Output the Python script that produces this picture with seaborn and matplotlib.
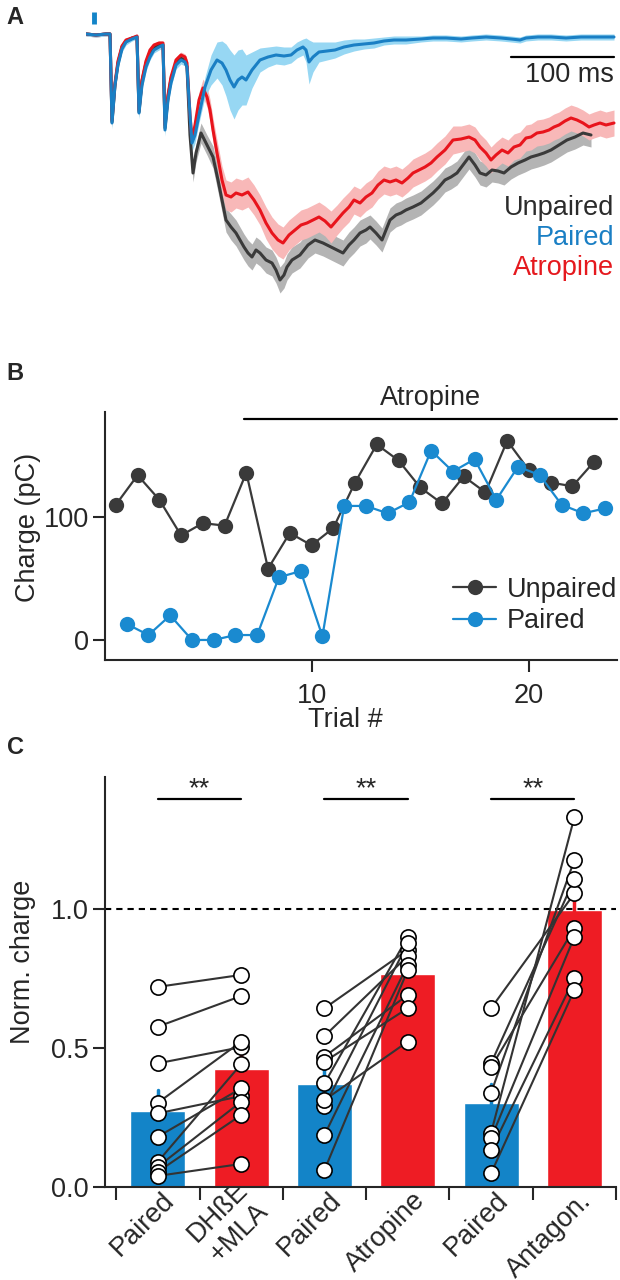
import numpy as np
import pandas as pd
import seaborn as sns
import matplotlib.pyplot as plt
import matplotlib.transforms as mtransforms

# -----------------------------
# Panel A: averaged synaptic currents (time in ms, current in a.u.)
# -----------------------------
t_paired = [0, 10, 20, 24, 26, 29, 32, 36, 40, 46, 51, 53, 56, 60, 64, 68, 73, 77, 79, 82,
            85, 90, 95, 99, 101, 104, 106, 109, 113, 119, 125, 131, 136, 140, 144, 148, 152, 156, 160, 166,
            174, 182, 190, 198, 205, 211, 217, 220, 223, 227, 233, 241, 249, 258, 268, 278, 288, 298, 308, 320,
            335, 347, 360, 375, 386, 400, 415, 425, 434, 440, 452, 465, 480, 495, 510, 528]
i_paired = [1, 0, 1, 1, -88, -50, -30, -14, -7, -4, -2, -78, -50, -32, -22, -15, -12, -10, -95, -65,
            -48, -30, -25, -27, -32, -80, -108, -100, -80, -52, -35, -25, -28, -35, -45, -52, -45, -42, -45, -35,
            -25, -22, -20, -21, -20, -15, -12, -15, -27, -22, -17, -16, -15, -12, -10, -9, -8, -6, -5, -5,
            -4, -3, -3, -4, -3, -2, -3, -4, -5, -3, -2, -2, -3, -2, -2, -2]
sem_paired = [2, 2, 2, 2, 6, 5, 4, 3, 3, 2, 2, 6, 5, 4, 3, 3, 3, 3, 6, 5,
              4, 4, 4, 4, 4, 6, 8, 8, 8, 10, 15, 18, 22, 26, 30, 32, 30, 28, 25, 18,
              12, 10, 9, 9, 8, 8, 8, 12, 22, 15, 10, 9, 8, 7, 6, 5, 5, 4, 4, 4,
              3, 3, 3, 3, 3, 3, 3, 3, 3, 3, 3, 3, 3, 3, 3, 3]

t_atropine = [0, 10, 20, 24, 26, 29, 32, 36, 40, 46, 51, 53, 56, 60, 64, 68, 73, 77, 79, 82,
              85, 90, 95, 99, 101, 104, 106, 109, 113, 117, 121, 124, 127, 131, 136, 140, 145, 150, 156, 162,
              168, 174, 180, 186, 192, 197, 203, 209, 215, 221, 227, 233, 239, 245, 251, 257, 263, 268, 274, 280,
              286, 292, 298, 304, 310, 316, 322, 327, 333, 339, 345, 351, 359, 367, 375, 383, 389, 394, 400, 405,
              410, 416, 422, 428, 434, 440, 445, 451, 457, 463, 468, 473, 479, 485, 491, 497, 503, 508, 514, 520, 528]
i_atropine = [1, 0, 1, 1, -85, -48, -26, -11, -5, -3, -1, -75, -45, -26, -15, -10, -8, -8, -90, -60,
              -42, -25, -20, -22, -28, -80, -105, -90, -65, -53, -62, -75, -95, -118, -145, -160, -162, -158, -160, -157,
              -165, -175, -188, -198, -205, -208, -200, -195, -190, -188, -185, -182, -186, -192, -185, -178, -172, -165, -168, -162,
              -158, -150, -145, -147, -145, -148, -143, -138, -135, -132, -128, -122, -115, -105, -104, -102, -105, -112, -118, -125,
              -120, -115, -118, -112, -110, -103, -102, -98, -97, -95, -92, -90, -86, -83, -85, -88, -92, -90, -88, -90, -88]
sem_atropine = [2, 2, 2, 2, 5, 4, 3, 3, 2, 2, 2, 5, 4, 3, 3, 2, 2, 2, 5, 4,
                4, 3, 3, 3, 4, 6, 8, 8, 8, 9, 10, 11, 12, 13, 14, 15, 15, 15, 15, 15,
                15, 15, 16, 16, 16, 16, 15, 15, 15, 15, 15, 15, 15, 16, 15, 15, 15, 14, 14, 14,
                14, 14, 14, 14, 14, 14, 14, 14, 14, 14, 14, 14, 14, 14, 13, 13, 13, 13, 13, 13,
                13, 13, 13, 13, 13, 13, 13, 13, 13, 13, 13, 13, 13, 13, 13, 13, 13, 13, 13, 13, 13]

t_unpaired = [0, 10, 20, 24, 26, 29, 32, 36, 40, 46, 51, 53, 56, 60, 64, 68, 73, 77, 79, 82,
              85, 90, 95, 99, 101, 104, 107, 110, 115, 121, 127, 132, 136, 140, 145, 150, 154, 158, 162, 166,
              170, 174, 180, 186, 190, 194, 198, 201, 206, 214, 222, 229, 237, 245, 251, 257, 263, 268, 274, 280,
              284, 290, 296, 300, 304, 310, 315, 320, 327, 335, 341, 347, 353, 359, 365, 371, 377, 383, 389, 394,
              400, 406, 412, 418, 425, 432, 439, 445, 452, 458, 465, 473, 481, 489, 497, 505]
i_unpaired = [1, 0, 1, 1, -87, -50, -28, -12, -6, -3, -2, -77, -46, -28, -17, -12, -10, -10, -93, -62,
              -44, -28, -23, -26, -32, -100, -138, -118, -98, -110, -122, -145, -165, -185, -192, -198, -205, -212, -218, -222,
              -215, -218, -225, -228, -235, -245, -240, -232, -225, -220, -210, -205, -208, -212, -215, -218, -210, -205, -198, -195,
              -192, -198, -205, -195, -185, -180, -178, -175, -172, -168, -163, -158, -152, -145, -142, -138, -130, -122, -130, -138,
              -140, -135, -136, -138, -132, -128, -125, -122, -120, -118, -115, -110, -105, -102, -98, -100]
sem_unpaired = [2, 2, 2, 2, 5, 4, 3, 3, 2, 2, 2, 5, 4, 3, 3, 2, 2, 2, 5, 4,
                4, 3, 3, 3, 4, 6, 9, 9, 10, 10, 11, 12, 12, 12, 13, 13, 13, 13, 13, 13,
                13, 13, 13, 13, 13, 13, 13, 13, 13, 13, 13, 13, 13, 13, 13, 13, 13, 13, 13, 13,
                12, 12, 12, 12, 12, 12, 12, 12, 12, 12, 12, 12, 12, 12, 12, 12, 12, 12, 12, 12,
                12, 12, 12, 12, 12, 12, 12, 12, 12, 12, 12, 12, 12, 12, 12, 12]

# -----------------------------
# Panel B: charge per trial
# -----------------------------
trials_unpaired = list(range(1, 24))
charge_unpaired = [110, 134, 114, 85, 95, 93, 136, 58, 87, 77, 91, 128, 159, 146, 124,
                   111, 133, 120, 162, 138, 128, 125, 145]
trials_paired = [1.5, 2.5, 3.5, 4.5, 5.5, 6.5, 7.5, 8.5, 9.5, 10.5, 11.5, 12.5, 13.5,
                 14.5, 15.5, 16.5, 17.5, 18.5, 19.5, 20.5, 21.5, 22.5, 23.5]
charge_paired = [13, 4, 20, 0, 0, 4, 4, 51, 56, 3, 109, 109, 103, 112, 154, 137, 147,
                 114, 141, 134, 110, 103, 107]
atropine_start = 6.9

# -----------------------------
# Panel C: normalized charge, paired cells
# -----------------------------
cond_keys = ["p1", "dhbe", "p2", "atro", "p3", "antag"]
cond_labels = ["Paired", "DHßE\n+MLA", "Paired", "Atropine", "Paired", "Antagon."]
dhbe_before = [0.720, 0.577, 0.445, 0.303, 0.265, 0.181, 0.091, 0.073, 0.055, 0.040]
dhbe_after = [0.763, 0.687, 0.503, 0.523, 0.327, 0.355, 0.442, 0.307, 0.259, 0.083]
atro_before = [0.643, 0.543, 0.469, 0.451, 0.373, 0.290, 0.313, 0.187, 0.061]
atro_after = [0.853, 0.831, 0.691, 0.643, 0.900, 0.877, 0.523, 0.800, 0.781]
antag_before = [0.643, 0.445, 0.431, 0.339, 0.195, 0.175, 0.133, 0.049]
antag_after = [1.056, 1.107, 0.931, 1.176, 1.330, 0.900, 0.751, 0.709]

blue = "#1384c8"
red = "#ee1c24"
dark = "#333333"

sns.set_theme(style="ticks")
plt.rcParams["font.family"] = ["Liberation Sans", "DejaVu Sans"]
plt.rcParams["axes.linewidth"] = 1.5
FS = 19.5

fig = plt.figure(figsize=(6.2, 12.8), dpi=100)
W, H = 620.0, 1280.0


def box(x0, y0, x1, y1):
    return [x0 / W, 1 - y1 / H, (x1 - x0) / W, (y1 - y0) / H]


# ---------------- Panel A ----------------
axA = fig.add_axes(box(86, 5, 616, 310))
traces = [
    (t_unpaired, i_unpaired, sem_unpaired, "#3a3a3a", "#b4b4b4"),
    (t_atropine, i_atropine, sem_atropine, "#e8141c", "#f8b8b8"),
    (t_paired, i_paired, sem_paired, "#1a7fc4", "#97d7f3"),
]
for t, v, s, lc, fc in traces:
    v = np.array(v, dtype=float)
    s = np.array(s, dtype=float)
    axA.fill_between(t, v - s, v + s, color=fc, lw=0, zorder=1)
for t, v, s, lc, fc in traces:
    sns.lineplot(x=t, y=v, color=lc, lw=2.2, ax=axA, zorder=2)
axA.set_xlim(0, 530)
axA.set_ylim(-275, 30)
axA.axis("off")
# stimulus marker and scale bar
axA.plot([8, 8], [11, 23], color=blue, lw=3.5, solid_capstyle="butt")
axA.plot([425, 528], [-22, -22], color="black", lw=1.6)
axA.text(528, -40, "100 ms", ha="right", va="center", fontsize=FS)
for txt, col, yy in [("Unpaired", "#2b2b2b", -173), ("Paired", "#1a7fc4", -203),
                     ("Atropine", "#e5191e", -233)]:
    axA.text(528, yy, txt, ha="right", va="center", fontsize=FS, color=col)

# ---------------- Panel B ----------------
axB = fig.add_axes(box(105, 412, 617, 660))
sns.lineplot(x=trials_unpaired, y=charge_unpaired, color="#3a3a3a", marker="o",
             markersize=11, markeredgewidth=0, lw=1.6, ax=axB, label="Unpaired")
sns.lineplot(x=trials_paired, y=charge_paired, color="#1a8ad0", marker="o",
             markersize=11, markeredgewidth=0, lw=1.6, ax=axB, label="Paired")
axB.set_xlim(0.5, 24.05)
axB.set_ylim(-16.3, 185.4)
axB.set_xticks([10, 20])
axB.set_yticks([0, 100])
axB.tick_params(labelsize=FS, length=8.5, width=1.5, pad=3)
axB.tick_params(axis="x", pad=8)
sns.despine(ax=axB)
axB.set_xlabel("Trial #", fontsize=FS)
axB.set_ylabel("Charge (pC)", fontsize=FS)
axB.yaxis.set_label_coords(-0.125, 0.536)
axB.xaxis.set_label_coords(0.47, -0.19)
axB.plot([atropine_start, 24.05], [180, 180], color="black", lw=1.6, clip_on=False)
axB.text((atropine_start + 24.05) / 2, 197, "Atropine", ha="center", va="center",
         fontsize=FS)
axB.legend(loc="lower right", bbox_to_anchor=(1.022, 0.06), frameon=False, fontsize=FS,
           handlelength=1.6, handletextpad=0.4, labelspacing=0.2, borderaxespad=0)

# ---------------- Panel C ----------------
pairs = [(0, dhbe_before, dhbe_after), (2, atro_before, atro_after),
         (4, antag_before, antag_after)]
rows = []
for i0, before, after in pairs:
    for k, (b, a) in enumerate(zip(before, after)):
        rows.append({"cond": cond_keys[i0], "cell": f"{i0}-{k}", "value": b})
        rows.append({"cond": cond_keys[i0 + 1], "cell": f"{i0}-{k}", "value": a})
df = pd.DataFrame(rows)

axC = fig.add_axes(box(105, 777, 616, 1187))
bar_colors = [blue, red, blue, red, blue, red]
sns.barplot(data=df, x="cond", y="value", hue="cond", order=cond_keys,
            hue_order=cond_keys, palette=bar_colors, errorbar="se", width=0.66,
            saturation=1, legend=False, err_kws={"linewidth": 2.5}, ax=axC, zorder=1)
for line, col in zip(axC.lines, bar_colors):
    line.set_color(col)
axC.axhline(1.0, color="black", lw=1.5, ls=(0, (3, 2.4)), zorder=1.5)
for i0, before, after in pairs:
    for b, a in zip(before, after):
        axC.plot([i0, i0 + 1], [b, a], color=dark, lw=1.5, zorder=2)
sns.scatterplot(data=df, x="cond", y="value", color="white", edgecolor="black",
                linewidth=1.2, s=120, ax=axC, zorder=3)
for i0, _, _ in pairs:
    axC.plot([i0, i0 + 1], [1.396, 1.396], color="black", lw=1.6, clip_on=False)
    axC.text(i0 + 0.5, 1.385, "**", ha="center", va="bottom", fontsize=FS)
axC.set_xlim(-0.635, 5.5)
axC.set_ylim(0, 1.475)
axC.set_yticks([0, 0.5, 1.0])
axC.set_yticklabels(["0.0", "0.5", "1.0"])
axC.set_xticks(range(6))
axC.set_xticks([k - 0.5 for k in range(7)], minor=True)
axC.tick_params(axis="x", which="major", length=0, labelsize=FS, pad=7)
axC.tick_params(axis="x", which="minor", length=9, width=1.5)
axC.tick_params(axis="y", length=9, width=1.5, labelsize=FS, pad=3)
axC.set_xticklabels(cond_labels, rotation=45, ha="right", va="center",
                    rotation_mode="anchor", multialignment="right")
shift = mtransforms.ScaledTranslation(13 / 100, 0, fig.dpi_scale_trans)
for lbl in axC.get_xticklabels():
    lbl.set_transform(lbl.get_transform() + shift)
sns.despine(ax=axC)
axC.set_xlabel("")
axC.set_ylabel("Norm. charge", fontsize=FS)
axC.yaxis.set_label_coords(-0.135, 0.549)

# panel letters
for letter, yy in [("A", 17), ("B", 374), ("C", 748)]:
    fig.text(15 / W, 1 - yy / H, letter, fontsize=17, fontweight="bold",
             ha="center", va="center")

fig.savefig("out.png", dpi=100)
